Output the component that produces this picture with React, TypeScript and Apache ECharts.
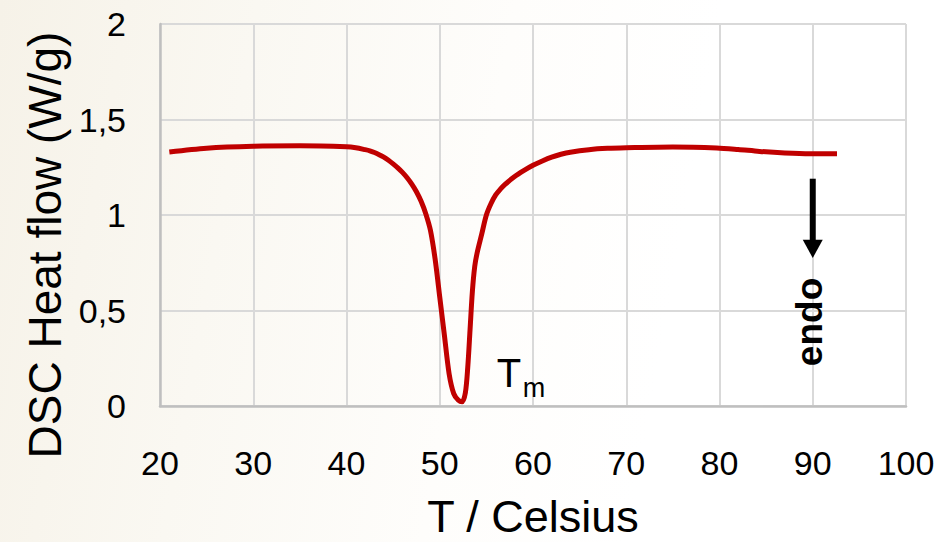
import React, { useEffect, useRef } from "react";
import * as echarts from "echarts";

const temperature = [
  21, 25, 30, 35, 40, 41, 42, 42.5, 43, 43.5, 44, 44.5, 45, 45.5, 46, 46.5, 47, 47.5, 48, 48.5,
  49, 49.5, 50, 50.5, 51, 51.5, 52, 52.4, 52.75, 53, 53.25, 53.5, 53.75, 54, 54.5, 55, 55.5, 56,
  56.5, 57, 58, 59, 60, 61, 62, 63, 64, 66, 68, 70, 75, 79.7, 82, 84.3, 87, 89.7, 92.6,
];
const heatFlow = [
  1.33, 1.35, 1.36, 1.362, 1.357, 1.352, 1.342, 1.336, 1.327, 1.316, 1.303, 1.287, 1.268, 1.247, 1.223, 1.195, 1.162, 1.122, 1.072, 1.007,
  0.92, 0.77, 0.57, 0.37, 0.17, 0.065, 0.03, 0.022, 0.07, 0.2, 0.4, 0.6, 0.73, 0.8, 0.9, 1.0, 1.06, 1.105,
  1.135, 1.16, 1.2, 1.232, 1.26, 1.283, 1.303, 1.318, 1.329, 1.342, 1.349, 1.352, 1.356, 1.351, 1.343, 1.333, 1.325, 1.321, 1.321,
];

const xRange = [20, 100];
const xStep = 10;
const yRange = [0, 2];
const yStep = 0.5;

const xTitle = "T / Celsius";
const yTitle = "DSC Heat flow (W/g)";
const peakLabel = { main: "T", sub: "m", x: 56.1, y: 0.1 };
const endoArrow = { x: 90, from: 1.19, headStart: 0.87, tip: 0.775, labelY: 0.44, text: "endo" };

const FONT = "Liberation Sans, Arial, sans-serif";

export default function App() {
  const ref = useRef<HTMLDivElement>(null);
  useEffect(() => {
    if (!ref.current) return;
    const chart = echarts.init(ref.current, null, { renderer: "svg" });
    const data = temperature.map((t, i) => [t, heatFlow[i]]);
    chart.setOption({
      animation: false,
      backgroundColor: "transparent",
      grid: { left: 160, right: 32, top: 24, bottom: 136, containLabel: false, outerBoundsMode: "none" },
      xAxis: {
        type: "value",
        min: xRange[0],
        max: xRange[1],
        interval: xStep,
        name: xTitle,
        nameLocation: "middle",
        nameGap: 88,
        nameTextStyle: { fontSize: 45, color: "#000", fontFamily: FONT },
        axisLine: { show: true, lineStyle: { color: "#bfbfbf", width: 2.5 } },
        axisTick: { show: false },
        axisLabel: { fontSize: 34, color: "#000", margin: 40, fontFamily: FONT },
        splitLine: { show: true, lineStyle: { color: "#d9d9d9", width: 2 } },
      },
      yAxis: {
        type: "value",
        min: yRange[0],
        max: yRange[1],
        interval: yStep,
        axisLine: { show: true, lineStyle: { color: "#bfbfbf", width: 2.5 } },
        axisTick: { show: false },
        axisLabel: {
          fontSize: 34,
          color: "#000",
          margin: 34,
          fontFamily: FONT,
          formatter: (v: number) => String(v).replace(".", ","),
        },
        splitLine: { show: true, lineStyle: { color: "#d9d9d9", width: 2 } },
      },
      series: [
        {
          type: "line",
          data,
          smooth: 0.3,
          showSymbol: false,
          lineStyle: { color: "#c00000", width: 5 },
        },
      ],
    });

    const p = (x: number, y: number) => chart.convertToPixel({ gridIndex: 0 }, [x, y]) as number[];
    const tPos = p(peakLabel.x, peakLabel.y);
    const a0 = p(endoArrow.x, endoArrow.from);
    const a1 = p(endoArrow.x, endoArrow.headStart);
    const a2 = p(endoArrow.x, endoArrow.tip);
    const eP = p(endoArrow.x, endoArrow.labelY);

    chart.setOption({
      graphic: [
        {
          type: "text",
          x: 45,
          y: 245,
          rotation: Math.PI / 2,
          style: {
            text: yTitle,
            fontSize: 46,
            fontFamily: FONT,
            fill: "#000",
            align: "center",
            verticalAlign: "middle",
          },
        },
        {
          type: "text",
          x: tPos[0],
          y: tPos[1] - 14,
          style: {
            text: peakLabel.main,
            fontSize: 40,
            fontFamily: FONT,
            fill: "#000",
            align: "left",
            verticalAlign: "middle",
          },
        },
        {
          type: "text",
          x: tPos[0] + 26,
          y: tPos[1] + 1,
          style: {
            text: peakLabel.sub,
            fontSize: 27,
            fontFamily: FONT,
            fill: "#000",
            align: "left",
            verticalAlign: "middle",
          },
        },
        {
          type: "line",
          shape: { x1: a0[0], y1: a0[1], x2: a1[0], y2: a1[1] + 1 },
          style: { stroke: "#000", lineWidth: 6 },
        },
        {
          type: "polygon",
          shape: {
            points: [
              [a1[0] - 10, a1[1]],
              [a1[0] + 10, a1[1]],
              [a2[0], a2[1]],
            ],
          },
          style: { fill: "#000" },
        },
        {
          type: "text",
          x: eP[0] - 3,
          y: eP[1],
          rotation: Math.PI / 2,
          style: {
            text: endoArrow.text,
            fontSize: 37,
            fontWeight: "bold",
            fontFamily: FONT,
            fill: "#000",
            align: "center",
            verticalAlign: "middle",
          },
        },
      ],
    });

    return () => chart.dispose();
  }, []);

  return (
    <div
      style={{
        position: "fixed",
        left: 0,
        top: 0,
        width: 938,
        height: 542,
        background: "linear-gradient(100deg, #f6f2e8 0%, #faf8f2 25%, #fefdfb 50%, #ffffff 70%)",
      }}
    >
      <div ref={ref} style={{ width: 938, height: 542 }} />
    </div>
  );
}
